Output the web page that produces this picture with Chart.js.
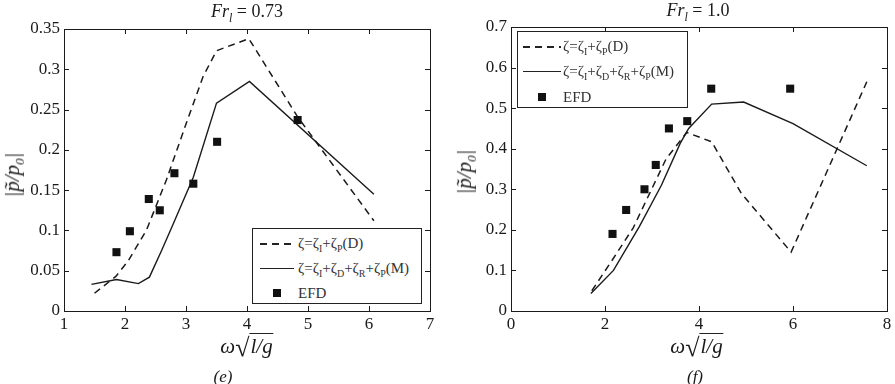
<!DOCTYPE html>
<html>
<head>
<meta charset="utf-8">
<script src="https://cdn.jsdelivr.net/npm/chart.js@4.4.0/dist/chart.umd.min.js"></script>
<style>
  body { margin: 0; width: 895px; height: 384px; overflow: hidden; position: relative; background: #fff;
         font-family: "Liberation Serif", "DejaVu Serif", serif; color: #1a1a1a; }
  canvas { position: absolute; top: 0; }
  .t { position: absolute; white-space: nowrap; transform: translateX(-50%); }
  .it { font-style: italic; }
  .ylab { position: absolute; white-space: nowrap; transform: translate(-50%, -50%) rotate(-90deg); font-size: 21px; }
  .leg { position: absolute; border: 1px solid #222; background: #fff; box-sizing: border-box; }
  .leg .row { position: absolute; left: 45px; font-size: 15px; line-height: 18px; white-space: nowrap; color: #333; }
  .leg .row sub { font-size: 10px; }
  .leg .dash { position: absolute; height: 1.5px;
               background: repeating-linear-gradient(to right, #222 0 7px, transparent 7px 12px); }
  .leg .solid { position: absolute; height: 1.4px; background: #222; }
  .leg .sq { position: absolute; width: 8px; height: 8px; background: #111; }
  .rad { font-size: 26px; vertical-align: -3px; }
  .sqrt { border-top: 1.2px solid #222; font-style: italic; padding: 0 1px; }
</style>
</head>
<body>
<canvas id="chartE" width="450" height="384" style="left:0;width:450px;height:384px"></canvas>
<canvas id="chartF" width="445" height="384" style="left:450px;width:445px;height:384px"></canvas>

<div class="t" style="left:247px;top:1px;font-size:18px"><span class="it">Fr<sub style="font-size:12px">l</sub></span> = 0.73</div>
<div class="t" style="left:698px;top:0px;font-size:18px"><span class="it">Fr<sub style="font-size:12px">l</sub></span> = 1.0</div>

<div class="ylab" style="left:14px;top:175px"><span class="it">|p̃/p<sub style="font-size:13px">0</sub>|</span></div>
<div class="ylab" style="left:466px;top:172px"><span class="it">|p̃/p<sub style="font-size:13px">0</sub>|</span></div>

<div class="t" style="left:247px;top:333px;font-size:21px"><span class="it">ω</span><span class="rad">√</span><span class="sqrt">l/g</span></div>
<div class="t" style="left:697px;top:333px;font-size:21px"><span class="it">ω</span><span class="rad">√</span><span class="sqrt">l/g</span></div>

<div class="t it" style="left:223px;top:367px;font-size:17px">(e)</div>
<div class="t it" style="left:695px;top:367px;font-size:17px">(f)</div>

<div class="leg" style="left:252px;top:228px;width:170px;height:76px">
  <div class="dash" style="left:7px;width:34px;top:14px"></div>
  <div class="row" style="top:5px">ζ=ζ<sub>I</sub>+ζ<sub>P</sub>(D)</div>
  <div class="solid" style="left:7px;width:34px;top:39px"></div>
  <div class="row" style="top:30px">ζ=ζ<sub>I</sub>+ζ<sub>D</sub>+ζ<sub>R</sub>+ζ<sub>P</sub>(M)</div>
  <div class="sq" style="left:20px;top:60px"></div>
  <div class="row" style="top:55px">EFD</div>
</div>

<div class="leg" style="left:517px;top:31px;width:171px;height:77px">
  <div class="dash" style="left:5px;width:38px;top:14px"></div>
  <div class="row" style="top:5px">ζ=ζ<sub>I</sub>+ζ<sub>P</sub>(D)</div>
  <div class="solid" style="left:5px;width:38px;top:39px"></div>
  <div class="row" style="top:30px">ζ=ζ<sub>I</sub>+ζ<sub>D</sub>+ζ<sub>R</sub>+ζ<sub>P</sub>(M)</div>
  <div class="sq" style="left:20px;top:61px"></div>
  <div class="row" style="top:56px">EFD</div>
</div>

<script>
// ----- (e) Fr_l = 0.73 -----
const dashE_x = [1.5, 1.85, 2.05, 2.35, 2.68, 3.0, 3.28, 3.5, 4.03, 4.83, 6.08];
const dashE_y = [0.022, 0.043, 0.062, 0.1, 0.163, 0.232, 0.291, 0.323, 0.338, 0.241, 0.112];
const solidE_x = [1.45, 1.86, 2.22, 2.4, 2.6, 2.79, 3.12, 3.5, 4.04, 6.08];
const solidE_y = [0.033, 0.039, 0.034, 0.042, 0.075, 0.108, 0.166, 0.258, 0.285, 0.145];
const efdE_x = [1.86, 2.08, 2.39, 2.57, 2.81, 3.12, 3.51, 4.83];
const efdE_y = [0.073, 0.099, 0.139, 0.125, 0.171, 0.158, 0.21, 0.237];

// ----- (f) Fr_l = 1.0 -----
const dashF_x = [1.72, 2.18, 2.6, 2.95, 3.3, 3.74, 4.27, 4.9, 5.96, 7.57];
const dashF_y = [0.05, 0.13, 0.205, 0.29, 0.375, 0.44, 0.417, 0.29, 0.145, 0.565];
const solidF_x = [1.7, 2.18, 2.73, 3.2, 3.6, 3.78, 4.27, 4.95, 6.0, 7.57];
const solidF_y = [0.043, 0.1, 0.208, 0.31, 0.413, 0.45, 0.51, 0.515, 0.462, 0.358];
const efdF_x = [2.16, 2.45, 2.84, 3.08, 3.36, 3.75, 4.26, 5.94];
const efdF_y = [0.19, 0.249, 0.3, 0.36, 0.45, 0.468, 0.548, 0.548];

const ink = "#1a1a1a";
const tickFont = { family: "Liberation Serif", size: 17 };

function pts(xs, ys) {
  return xs.map((x, i) => ({ x: x, y: ys[i] }));
}

// frame + inward tick marks, matlab style
const boxPlugin = {
  id: "box",
  afterDraw(chart) {
    const { ctx, chartArea: a, scales: { x, y } } = chart;
    ctx.save();
    ctx.strokeStyle = ink;
    ctx.lineWidth = 1;
    ctx.strokeRect(Math.round(a.left) + 0.5, Math.round(a.top) + 0.5,
      Math.round(a.right - a.left), Math.round(a.bottom - a.top));
    ctx.beginPath();
    x.ticks.forEach(t => {
      const px = Math.round(x.getPixelForValue(t.value)) + 0.5;
      ctx.moveTo(px, a.bottom); ctx.lineTo(px, a.bottom - 5);
      ctx.moveTo(px, a.top); ctx.lineTo(px, a.top + 5);
    });
    y.ticks.forEach(t => {
      const py = Math.round(y.getPixelForValue(t.value)) + 0.5;
      ctx.moveTo(a.left, py); ctx.lineTo(a.left + 5, py);
      ctx.moveTo(a.right, py); ctx.lineTo(a.right - 5, py);
    });
    ctx.stroke();
    ctx.restore();
  }
};

function makeChart(id, d, xr, yr, pad) {
  new Chart(document.getElementById(id), {
    type: "scatter",
    data: {
      datasets: [
        { label: "EFD", data: pts(d.ex, d.ey), pointStyle: "rect", pointRadius: 5.7,
          pointHoverRadius: 5.7, backgroundColor: "#111", borderWidth: 0 },
        { label: "D", data: pts(d.dx, d.dy), showLine: true, pointRadius: 0,
          borderColor: ink, borderWidth: 1.5, borderDash: [7, 5] },
        { label: "M", data: pts(d.sx, d.sy), showLine: true, pointRadius: 0,
          borderColor: ink, borderWidth: 1.4 }
      ]
    },
    options: {
      responsive: false,
      animation: false,
      layout: { padding: pad },
      plugins: { legend: { display: false }, tooltip: { enabled: false } },
      scales: {
        x: {
          min: xr[0], max: xr[1],
          grid: { display: false, drawTicks: false },
          border: { display: false },
          ticks: { stepSize: xr[2], color: ink, font: tickFont, padding: 3 },
          afterFit: s => { s.height = 24; }
        },
        y: {
          min: yr[0], max: yr[1],
          grid: { display: false, drawTicks: false },
          border: { display: false },
          ticks: { stepSize: yr[2], color: ink, font: tickFont, padding: 4,
                   callback: v => String(+v.toFixed(2)) },
          afterFit: s => { s.width = 44; }
        }
      }
    },
    plugins: [boxPlugin]
  });
}

makeChart("chartE",
  { dx: dashE_x, dy: dashE_y, sx: solidE_x, sy: solidE_y, ex: efdE_x, ey: efdE_y },
  [1, 7, 1], [0, 0.35, 0.05],
  { left: 20, right: 20, top: 29, bottom: 49 });

makeChart("chartF",
  { dx: dashF_x, dy: dashF_y, sx: solidF_x, sy: solidF_y, ex: efdF_x, ey: efdF_y },
  [0, 8, 2], [0, 0.7, 0.1],
  { left: 17, right: 8, top: 27, bottom: 49 });
</script>
</body>
</html>
